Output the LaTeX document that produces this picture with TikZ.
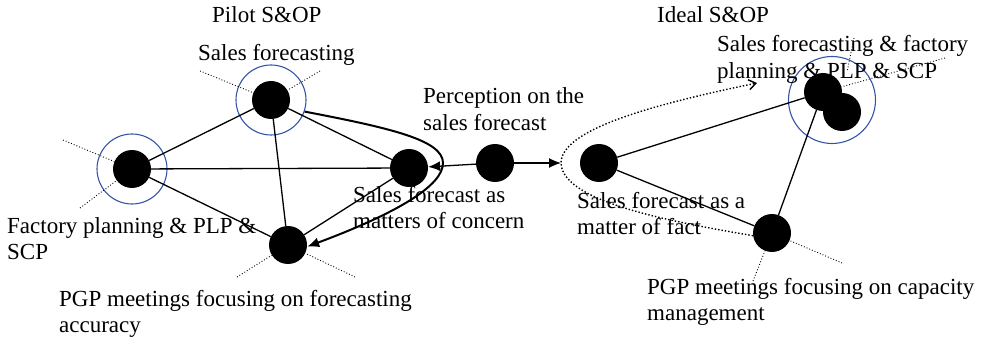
\documentclass[tikz,border=0pt]{standalone}
\usepackage{fontspec}
\setmainfont{Liberation Serif}
\usetikzlibrary{arrows.meta}
\definecolor{ringblue}{RGB}{52,84,166}
\tikzset{
	actor/.style={circle, fill=black, inner sep=0pt, minimum size=38pt},
	ring/.style={circle, draw=ringblue, line width=1.1pt, inner sep=0pt},
	tie/.style={line width=1.3pt},
	spoke/.style={dotted, line width=0.9pt},
	lbl/.style={inner sep=0pt, align=left, anchor=base west, font=\fontsize{23}{26.5}\selectfont},
	head/.style={-{Latex[length=12pt,width=10pt]}}
}

\begin{document}
\begin{tikzpicture}[x=1pt, y=-1pt]
				\useasboundingbox (0,0) rectangle (987,339);
				
				% pilot network
				\node[ring, minimum size=70pt] (Sring) at (271,100) {};
				\node[ring, minimum size=70pt] (Fring) at (132,169) {};
				\node[actor] (S) at (271,100) {};
				\node[actor] (F) at (132,169) {};
				\node[actor] (C) at (409,168) {};
				\node[actor] (P) at (288,245) {};
				\node[actor] (M) at (495,163) {};
				
				% ideal network
				\node[ring, minimum size=87pt] (Iring) at (832,100) {};
				\node[actor] (A) at (599,163) {};
				\node[actor] (I1) at (823,92) {};
				\node[actor] (I2) at (842,112) {};
				\node[actor] (Q) at (772,233) {};
				
				\coordinate (reach) at (561,163);
				\coordinate (aim) at (757,83);
				
				% dotted spokes
				\coordinate (s1) at (200,71);
				\coordinate (s2) at (320,71);
				\coordinate (f1) at (63,140);
				\coordinate (f2) at (80,208);
				\coordinate (p1) at (237,277);
				\coordinate (p2) at (355,277);
				\coordinate (i1) at (945,58);
				\coordinate (i2) at (854,38);
				\coordinate (i3) at (847,72);
				\coordinate (q1) at (753,281);
				\coordinate (q2) at (842,263);
				\draw[spoke] (s1) -- (S);
				\draw[spoke] (s2) -- (S);
				\draw[spoke] (f1) -- (F);
				\draw[spoke] (f2) -- (F);
				\draw[spoke] (p1) -- (P);
				\draw[spoke] (p2) -- (P);
				\draw[spoke] (i1) -- (I1);
				\draw[spoke] (i2) -- (i3);
				\draw[spoke] (q1) -- (Q);
				\draw[spoke] (q2) -- (Q);
				
				\draw[tie] (F) -- (S);
				\draw[tie] (F) -- (C);
				\draw[tie] (F) -- (P);
				\draw[tie] (S) -- (C);
				\draw[tie] (S) -- (P);
				\draw[tie] (C) -- (P);
				\draw[tie, head] (M) -- (C);
				\draw[tie, head] (M) -- (reach);
				\draw[tie] (A) -- (I1);
				\draw[tie] (A) -- (Q);
				\draw[tie] (Q) -- (I1);
				
				\draw[line width=2pt, head] (Sring.-19) .. controls (390,128) and (443,140) .. (443,163) .. controls (443,185) and (400,212) .. (P.-5);
				\draw[dotted, line width=1.4pt, -{Straight Barb[length=7pt,width=10pt]}] (Q.188) .. controls (660,220) and (562,200) .. (reach) .. controls (561,130) and (650,105) .. (aim);
				
				% labels (two-line ones sit on their last baseline)
				\node[lbl] (pilot) at (212,23) {Pilot S\&OP};
				\node[lbl] (lblS) at (198,61) {Sales forecasting};
				\node[lbl] (lblF) at (7,259.5) {Factory planning \& PLP \&\\SCP};
				\node[lbl] (lblP) at (59,332.5) {PGP meetings focusing on forecasting\\accuracy};
				\node[lbl] (lblC) at (353,228.5) {Sales forecast as\\matters of concern};
				\node[lbl] (lblM) at (423,130.5) {Perception on the\\sales forecast};
				\node[lbl] (ideal) at (657,23) {Ideal S\&OP};
				\node[lbl] (lblI) at (717,78.5) {Sales forecasting \& factory\\planning \& PLP \& SCP};
				\node[lbl] (lblA) at (577,234.5) {Sales forecast as a\\matter of fact};
				\node[lbl] (lblQ) at (647,320.5) {PGP meetings focusing on capacity\\management};
\end{tikzpicture}
\end{document}
